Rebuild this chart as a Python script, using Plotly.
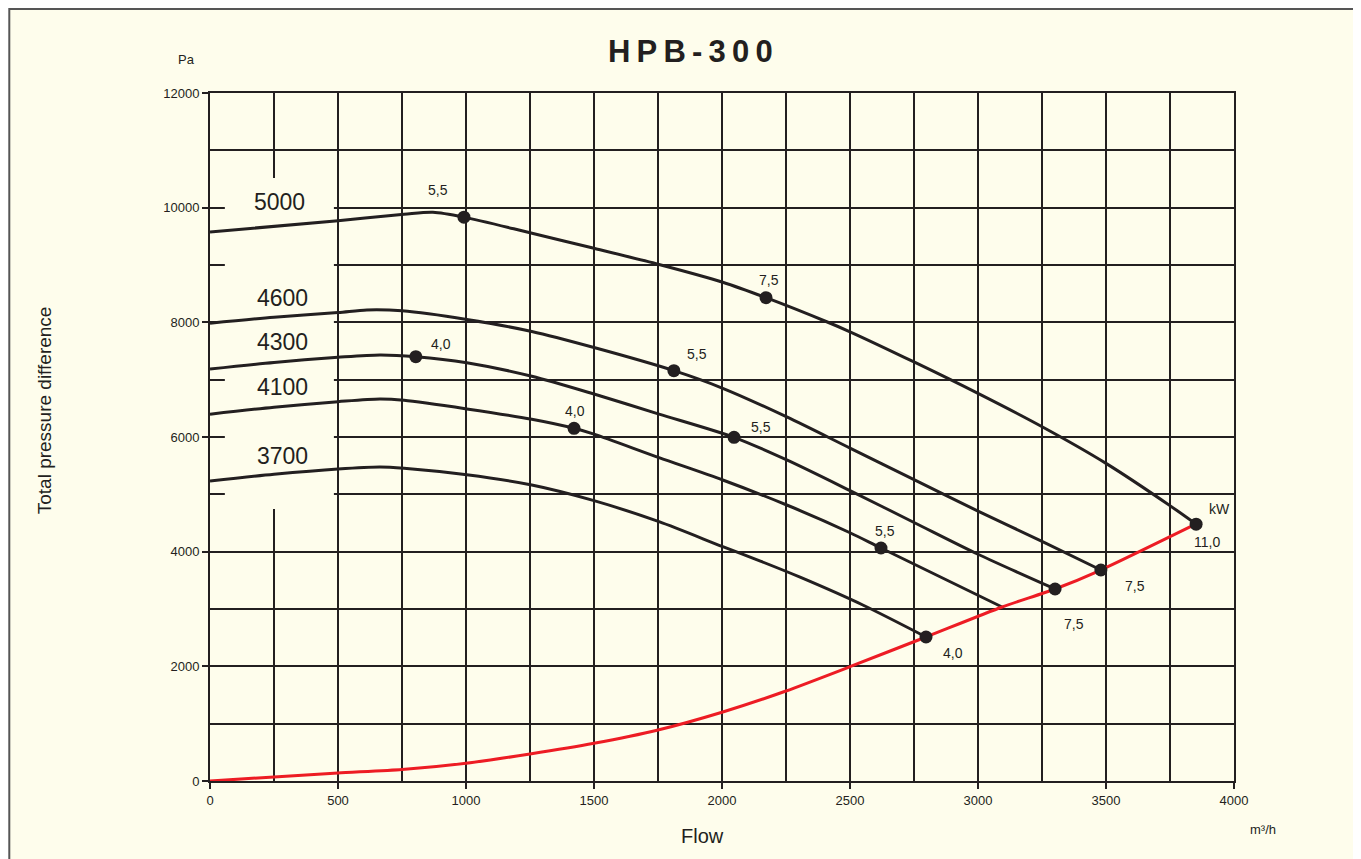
import plotly.graph_objects as go

# fan curves (flow m3/h, pressure Pa)
flow_5000 = [0, 500, 758, 871, 992, 1258, 1500, 1754, 2003, 2172, 2409, 2500, 2754, 3000, 3254, 3500, 3754, 3852]
pres_5000 = [9575, 9773, 9885, 9920, 9835, 9553, 9292, 9010, 8700, 8430, 8010, 7835, 7300, 6760, 6170, 5540, 4790, 4480]

flow_4600 = [0, 250, 500, 613, 750, 1003, 1257, 1500, 1812, 2003, 2253, 2500, 2754, 3000, 3250, 3480]
pres_4600 = [7985, 8090, 8170, 8215, 8200, 8050, 7840, 7560, 7157, 6850, 6350, 5807, 5248, 4707, 4180, 3680]

flow_4300 = [0, 250, 500, 664, 804, 1003, 1257, 1500, 1754, 2047, 2253, 2500, 2754, 3000, 3301]
pres_4300 = [7185, 7300, 7390, 7431, 7401, 7296, 7060, 6750, 6400, 5995, 5600, 5065, 4500, 3955, 3349]

flow_4100 = [0, 250, 500, 664, 758, 1003, 1257, 1422, 1500, 1754, 2003, 2253, 2500, 2621, 3094]
pres_4100 = [6398, 6520, 6616, 6663, 6640, 6490, 6310, 6152, 6050, 5640, 5250, 4814, 4330, 4064, 3035]

flow_3700 = [0, 250, 500, 664, 758, 1003, 1257, 1500, 1754, 2003, 2150, 2305, 2550, 2797]
pres_3700 = [5233, 5350, 5442, 5477, 5454, 5340, 5163, 4890, 4523, 4087, 3835, 3555, 3070, 2512]

# system (red) curve
flow_sys = [0, 250, 500, 750, 1000, 1250, 1500, 1750, 2000, 2250, 2500, 2797, 3094, 3301, 3480, 3852]
pres_sys = [0, 70, 140, 200, 309, 471, 657, 890, 1200, 1570, 1994, 2512, 3035, 3349, 3680, 4483]

# motor power points (kW)
kw_flow = [992, 2172, 3852, 1812, 3480, 804, 2047, 3301, 1422, 2621, 2797]
kw_pres = [9835, 8430, 4480, 7157, 3680, 7401, 5995, 3349, 6152, 4064, 2512]
kw_text = ["5,5", "7,5", "11,0", "5,5", "7,5", "4,0", "5,5", "7,5", "4,0", "5,5", "4,0"]

speeds = ["5000", "4600", "4300", "4100", "3700"]

INK = "#231F20"
CREAM = "#FEFDEC"
FONT = "Arial, Liberation Sans, sans-serif"

fig = go.Figure()

curves = [(flow_5000, pres_5000), (flow_4600, pres_4600), (flow_4300, pres_4300),
          (flow_4100, pres_4100), (flow_3700, pres_3700)]
for (fx, py), name in zip(curves, speeds):
    fig.add_trace(go.Scatter(x=fx, y=py, mode="lines", name=name,
                             line=dict(color=INK, width=3, shape="spline", smoothing=0.8)))

fig.add_trace(go.Scatter(x=flow_sys, y=pres_sys, mode="lines", name="system",
                         line=dict(color="#ED1C24", width=3, shape="spline", smoothing=0.6)))

fig.add_trace(go.Scatter(x=kw_flow, y=kw_pres, mode="markers", name="kW",
                         marker=dict(color=INK, size=13)))

# label offsets in px (x, y-up) for each power point
kw_offsets = [(-26, 27), (3, 18), (11, -18), (23, 17), (34, -16), (25, 13),
              (27, 10), (19, -35), (1, 17), (4, 17), (27, -16)]
for fx, py, t, (dx, dy) in zip(kw_flow, kw_pres, kw_text, kw_offsets):
    fig.add_annotation(x=fx, y=py, text=t, showarrow=False, xshift=dx, yshift=dy,
                       font=dict(size=14, color=INK, family=FONT))
fig.add_annotation(x=3852, y=4480, text="kW", showarrow=False, xshift=23, yshift=15,
                   font=dict(size=14, color=INK, family=FONT))

# speed labels on the left
speed_pos = [(273, 10099), (285, 8425), (285, 7657), (285, 6872), (285, 5669)]
for name, (lx, ly) in zip(speeds, speed_pos):
    fig.add_annotation(x=lx, y=ly, text=name, showarrow=False,
                       font=dict(size=23, color=INK, family=FONT))

# patch of background that hides the grid behind the speed labels
fig.add_shape(type="rect", x0=58, x1=484, y0=4744, y1=10518, layer="between",
              fillcolor=CREAM, line=dict(width=0))

# outer frame
fig.add_shape(type="rect", xref="paper", yref="paper", x0=-0.196, x1=1.2, y0=-0.2, y1=1.122,
              layer="below", fillcolor=CREAM, line=dict(color="#555555", width=2))


def paper_text(x, y, text, size, angle=0):
    fig.add_annotation(xref="paper", yref="paper", x=x, y=y, text=text, showarrow=False,
                       xanchor="center", yanchor="middle", textangle=angle,
                       font=dict(size=size, color=INK, family=FONT))


# title is letter-spaced in the original, thin spaces mimic that
paper_text(0.469, 1.0596, "<b>" + "\u2009".join("HPB-300") + "</b>", 31)
paper_text(-0.0234, 1.0494, "Pa", 13)
paper_text(1.028, -0.071, "m³/h", 13)
paper_text(0.4805, -0.0799, "Flow", 20)
paper_text(-0.162, 0.539, "Total pressure difference", 19, angle=-90)

axis_style = dict(showline=True, linecolor=INK, linewidth=2, mirror=True,
                  ticks="outside", ticklen=6, tickwidth=1.5, tickcolor=INK,
                  showgrid=True, gridcolor=INK, gridwidth=1.5, zeroline=False,
                  tickformat="d", tickfont=dict(size=13, color=INK, family=FONT))

fig.update_xaxes(range=[0, 4000], dtick=500, tick0=0,
                 minor=dict(dtick=250, showgrid=True, gridcolor=INK, gridwidth=1.5), **axis_style)
fig.update_yaxes(range=[0, 12000], dtick=2000, tick0=0,
                 minor=dict(dtick=1000, showgrid=True, gridcolor=INK, gridwidth=1.5), **axis_style)

fig.update_layout(width=1361, height=859, showlegend=False,
                  paper_bgcolor="white", plot_bgcolor="rgba(0,0,0,0)",
                  margin=dict(l=202, r=135, t=85, b=86))

fig.write_html("out.html")
